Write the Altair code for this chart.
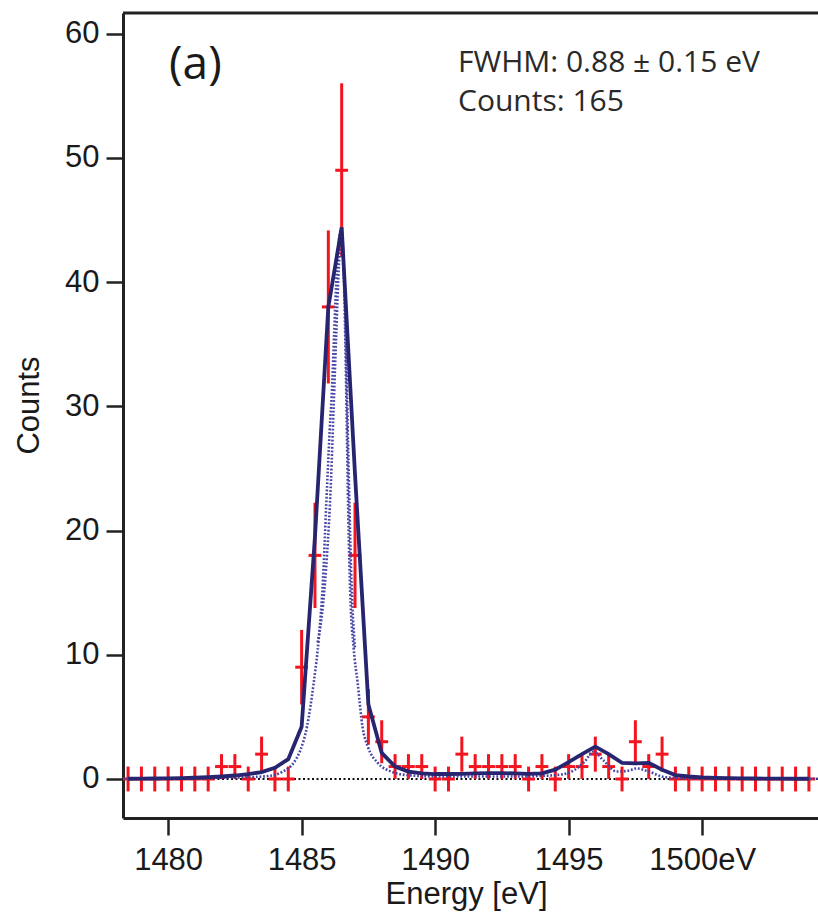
import altair as alt
import pandas as pd

# ---- measured data (red crosses): bin centres [eV] and counts ----
energy = [1478.5, 1479.0, 1479.5, 1480.0, 1480.5, 1481.0, 1481.5, 1482.0, 1482.5, 1483.0,
          1483.5, 1484.0, 1484.5, 1485.0, 1485.5, 1486.0, 1486.5, 1487.0, 1487.5, 1488.0,
          1488.5, 1489.0, 1489.5, 1490.0, 1490.5, 1491.0, 1491.5, 1492.0, 1492.5, 1493.0,
          1493.5, 1494.0, 1494.5, 1495.0, 1495.5, 1496.0, 1496.5, 1497.0, 1497.5, 1498.0,
          1498.5, 1499.0, 1499.5, 1500.0, 1500.5, 1501.0, 1501.5, 1502.0, 1502.5, 1503.0,
          1503.5, 1504.0]
counts = [0, 0, 0, 0, 0, 0, 0, 1, 1, 0,
          2, 0, 0, 9, 18, 38, 49, 18, 5, 3,
          1, 1, 1, 0, 0, 2, 1, 1, 1, 1,
          0, 1, 0, 1, 1, 2, 1, 0, 3, 1,
          2, 0, 0, 0, 0, 0, 0, 0, 0, 0,
          0, 0]
err = [1.0, 1.0, 1.0, 1.0, 1.0, 1.0, 1.0, 1.0, 1.0, 1.0,
       1.41, 1.0, 1.0, 3.0, 4.24, 6.16, 7.0, 4.24, 2.24, 1.73,
       1.0, 1.0, 1.0, 1.0, 1.0, 1.41, 1.0, 1.0, 1.0, 1.0,
       1.0, 1.0, 1.0, 1.0, 1.0, 1.41, 1.0, 1.0, 1.73, 1.0,
       1.41, 1.0, 1.0, 1.0, 1.0, 1.0, 1.0, 1.0, 1.0, 1.0,
       1.0, 1.0]
half_bin = 0.24

# ---- binned fit (solid line), same bin centres ----
fit_binned = [0.02, 0.03, 0.04, 0.05, 0.07, 0.1, 0.14, 0.2, 0.28, 0.4,
              0.55, 0.9, 1.6, 4.2, 19.5, 38.0, 44.4, 24.5, 6.0, 2.1,
              1.0, 0.6, 0.45, 0.4, 0.4, 0.42, 0.45, 0.47, 0.47, 0.45,
              0.42, 0.45, 0.75, 1.35, 2.0, 2.6, 2.0, 1.3, 1.25, 1.3,
              0.75, 0.32, 0.2, 0.13, 0.09, 0.07, 0.05, 0.04, 0.03, 0.03,
              0.02, 0.02]

# ---- unbinned model (dotted curve A) ----
model_x = [1478.3, 1480.0, 1481.0, 1482.0, 1483.0, 1483.8, 1484.3, 1484.7, 1484.95, 1485.2,
           1485.45, 1485.65, 1485.8, 1485.92, 1486.05, 1486.15, 1486.22, 1486.32, 1486.42, 1486.48,
           1486.55, 1486.62, 1486.68, 1486.75, 1486.82, 1486.95, 1487.1, 1487.28, 1487.48, 1487.85,
           1488.35, 1489.0, 1490.0, 1491.0, 1492.0, 1493.0, 1494.0, 1494.7, 1495.2, 1495.6,
           1495.93, 1496.3, 1496.8, 1497.2, 1497.55, 1498.0, 1498.6, 1499.5, 1501.0, 1504.5]
model_y = [0.02, 0.04, 0.06, 0.1, 0.15, 0.25, 0.6, 1.3, 2.3, 4.2,
           7.7, 11.5, 16.0, 22.0, 28.0, 32.0, 36.0, 41.0, 43.8, 44.2,
           42.5, 37.0, 30.0, 21.0, 15.0, 10.5, 7.7, 4.2, 2.6, 1.3,
           0.6, 0.3, 0.2, 0.2, 0.2, 0.2, 0.25, 0.35, 0.7, 1.4,
           2.2, 1.5, 0.6, 0.65, 0.85, 0.6, 0.15, 0.05, 0.03, 0.02]

# ---- narrower component near the main peak (dotted curve B) ----
comp_x = [1485.6, 1485.8, 1485.95, 1486.1, 1486.2, 1486.3, 1486.4, 1486.5, 1486.6, 1486.65,
          1486.75, 1486.85, 1487.0]
comp_y = [11.0, 14.0, 18.0, 24.0, 30.0, 36.0, 41.5, 44.0, 40.0, 36.0,
          26.0, 17.0, 10.5]

x_ticks = [1480, 1485, 1490, 1495, 1500]
y_ticks = [0, 10, 20, 30, 40, 50, 60]
x_domain = [1478.31, 1504.34]
y_domain = [-3.14, 61.66]

PLOT_W = 695
PLOT_H = 805

FONT = "Liberation Sans, Arial, Helvetica, sans-serif"
ANN_FONT = "Open Sans, Noto Sans, sans-serif"
RED = "#f2141e"
NAVY = "#272570"
DOT = "#4644a6"
INK = "#222222"

xs = alt.Scale(domain=x_domain, nice=False, zero=False)
ys = alt.Scale(domain=y_domain, nice=False, zero=False)

xaxis = alt.Axis(values=x_ticks, title="Energy [eV]", format="d",
                 labelExpr="datum.value == 1500 ? '1500eV' : datum.label",
                 labelFont=FONT, labelFontSize=31, labelColor="#1a1a1a", labelPadding=10,
                 titleFont=FONT, titleFontSize=31, titleFontWeight="normal", titleColor="#1a1a1a",
                 titleX=343, titleY=76, titleBaseline="middle", titleAnchor="middle",
                 domain=True, domainColor=INK, domainWidth=3,
                 grid=False, ticks=True, tickSize=17, tickWidth=2.5,
                 tickColor=INK, labelFlush=False, labelOverlap=False)
yaxis = alt.Axis(values=y_ticks, title="Counts", format="d",
                 labelFont=FONT, labelFontSize=31, labelColor="#1a1a1a", labelPadding=7,
                 titleFont=FONT, titleFontSize=31, titleFontWeight="normal", titleColor="#1a1a1a",
                 titleX=-94, titleY=392, titleBaseline="middle", titleAngle=-90,
                 domain=True, domainColor=INK, domainWidth=3,
                 grid=False, ticks=True, tickSize=17, tickWidth=2.5,
                 tickColor=INK)

df = pd.DataFrame({"energy": energy, "counts": counts, "err": err, "fit": fit_binned})
df["lo"] = df["counts"] - df["err"]
df["hi"] = df["counts"] + df["err"]
df["xl"] = df["energy"] - half_bin
df["xr"] = df["energy"] + half_bin

model_df = pd.DataFrame({"energy": model_x, "val": model_y})
comp_df = pd.DataFrame({"energy": comp_x, "val": comp_y})
zero_df = pd.DataFrame({"y": [0]})

zero_line = alt.Chart(zero_df).mark_rule(color="#111111", strokeWidth=2, strokeDash=[2, 2.5]).encode(
    y=alt.Y("y:Q", scale=ys, axis=yaxis)
)

top_frame = alt.Chart(zero_df).mark_rule(color=INK, strokeWidth=3).encode(
    x=alt.value(0), x2=alt.value(PLOT_W), y=alt.value(0)
)

vbars = alt.Chart(df).mark_rule(color=RED, strokeWidth=3, clip=True).encode(
    x=alt.X("energy:Q", scale=xs, axis=xaxis),
    y=alt.Y("lo:Q", scale=ys, axis=yaxis),
    y2="hi:Q",
)
hbars = alt.Chart(df).mark_rule(color=RED, strokeWidth=3, clip=True).encode(
    x=alt.X("xl:Q", scale=xs, axis=xaxis),
    x2="xr:Q",
    y=alt.Y("counts:Q", scale=ys, axis=yaxis),
)

model_line = alt.Chart(model_df).mark_line(color=DOT, strokeWidth=2.6, strokeDash=[1.8, 1.8],
                                           clip=True, interpolate="monotone").encode(
    x=alt.X("energy:Q", scale=xs, axis=xaxis),
    y=alt.Y("val:Q", scale=ys, axis=yaxis),
)
comp_line = alt.Chart(comp_df).mark_line(color=DOT, strokeWidth=2.6, strokeDash=[1.8, 1.8],
                                         clip=True, interpolate="monotone").encode(
    x=alt.X("energy:Q", scale=xs, axis=xaxis),
    y=alt.Y("val:Q", scale=ys, axis=yaxis),
)

fit_line = alt.Chart(df).mark_line(color=NAVY, strokeWidth=3.8, clip=True).encode(
    x=alt.X("energy:Q", scale=xs, axis=xaxis),
    y=alt.Y("fit:Q", scale=ys, axis=yaxis),
)

panel_label = alt.Chart(pd.DataFrame({"t": ["(a)"]})).mark_text(
    font=ANN_FONT, fontSize=46, color="#1a1a1a", align="left", baseline="middle"
).encode(text="t:N", x=alt.value(46), y=alt.value(52))

info = alt.Chart(pd.DataFrame({"t": ["FWHM: 0.88 ± 0.15 eV", "Counts: 165"], "yy": [50, 89]})).mark_text(
    font=ANN_FONT, fontSize=30, color="#2a2a2a", align="left", baseline="middle"
).encode(text="t:N", x=alt.value(335), y=alt.Y("yy:Q", scale=None))

chart = alt.layer(zero_line, vbars, hbars, model_line, comp_line, fit_line, top_frame,
                  panel_label, info).properties(
    width=PLOT_W, height=PLOT_H,
    padding={"left": 123, "top": 13, "right": 0, "bottom": 95},
    autosize=alt.AutoSizeParams(type="none"),
    background="white",
).configure_view(stroke="transparent", strokeWidth=0)

chart.save("out.html", embed_options={"renderer": "svg", "actions": False})
